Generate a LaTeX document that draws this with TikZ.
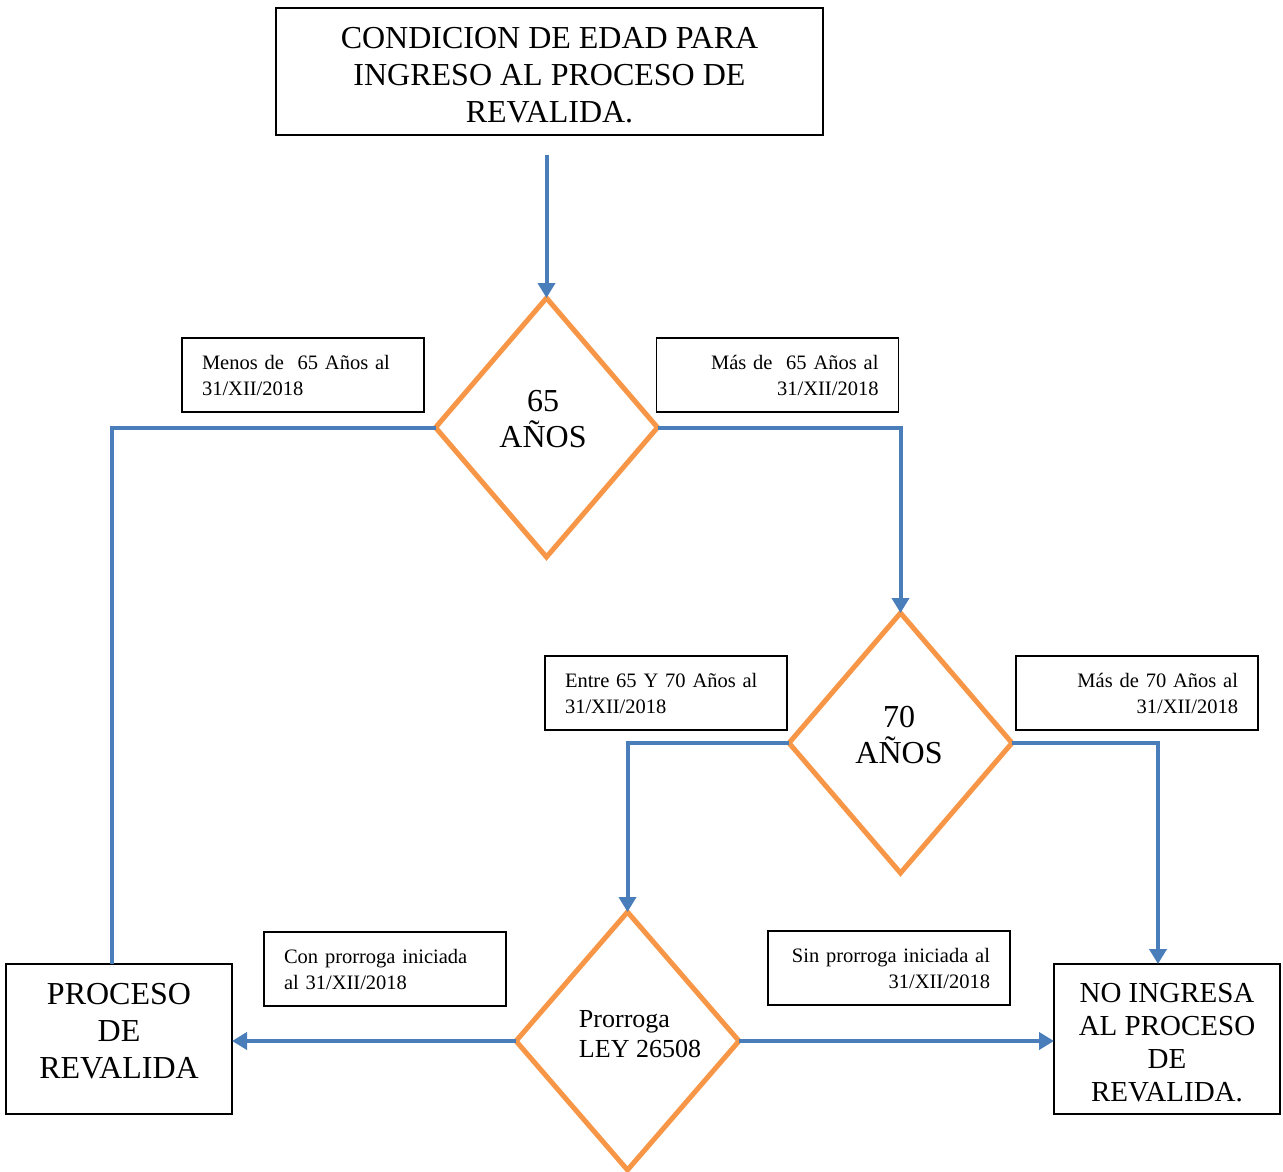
\documentclass[tikz,border=0pt]{standalone}
\usepackage{fontspec}
\setmainfont{Liberation Serif}
\usetikzlibrary{shapes.geometric,arrows.meta}
\definecolor{flowblue}{HTML}{4A7EBB}
\definecolor{floworange}{HTML}{F79646}
\begin{document}
\begin{tikzpicture}[x=1pt,y=-1pt,
 bigbox/.style={draw=black, line width=1.3pt, inner sep=0pt, outer sep=0pt},
 boxtext/.style={inner sep=0pt, align=center, font=\fontsize{32}{37}\selectfont},
 lblbox/.style={draw=black, line width=1.3pt, inner xsep=20pt, inner ysep=0pt, minimum height=74pt, text width=202pt, outer sep=0pt, font=\fontsize{20.5}{26}\selectfont},
 dec/.style={diamond, draw=floworange, line width=5pt, inner sep=0pt, outer sep=0pt},
 dectext/.style={inner sep=0pt, align=center, font=\fontsize{32}{36}\selectfont},
 conn/.style={draw=flowblue, line width=4pt},
 arr/.style={conn, -{Triangle[width=17pt,length=15pt]}}
]
\useasboundingbox (0,0) rectangle (1283,1172);

% main boxes
\node[bigbox, minimum width=547pt, minimum height=127pt] (title) at (549.5,71.5) {};
\node[boxtext] (titletext) at (549.5,75) {CONDICION DE EDAD PARA\\INGRESO AL PROCESO DE\\REVALIDA.};
\node[bigbox, minimum width=226pt, minimum height=150pt] (proc) at (119,1039) {};
\node[boxtext] (proctext) at (119,1031) {PROCESO\\DE\\REVALIDA};
\node[bigbox, minimum width=226pt, minimum height=150pt] (noing) at (1167,1039) {};
\node[boxtext, font=\fontsize{29}{33}\selectfont] (noingtext) at (1167,1043) {NO INGRESA\\AL PROCESO\\DE\\REVALIDA.};

% decisions
\node[dec, minimum width=222pt, minimum height=259pt] (d65) at (546.5,427.5) {};
\node[dectext] (d65text) at (543,419.5) {65\\AÑOS};
\node[dec, minimum width=223pt, minimum height=260pt] (d70) at (900.5,743) {};
\node[dectext] (d70text) at (899,735) {70\\AÑOS};
\node[dec, minimum width=223pt, minimum height=258pt] (dpr) at (627.5,1041) {};
\node[align=left, inner sep=0pt, font=\fontsize{26}{30}\selectfont] (dprtext) at (640,1034) {Prorroga\\LEY 26508};

% labels
\node[lblbox, align=left]  (l1) at (303,375)   {Menos de\ \ 65 Años al\\31/XII/2018};
\node[lblbox, align=right] (l2) at (777.5,375) {Más de\ \ 65 Años al\\31/XII/2018};
\node[lblbox, align=left]  (l3) at (666,693)   {Entre 65 Y 70 Años al\\31/XII/2018};
\node[lblbox, align=right] (l4) at (1137,693)  {Más de 70 Años al\\31/XII/2018};
\node[lblbox, align=left]  (l5) at (385,969)   {Con prorroga iniciada\\al 31/XII/2018};
\node[lblbox, align=right] (l6) at (889,968)   {Sin prorroga iniciada al\\31/XII/2018};

% connectors
\coordinate (s0) at (546.5,155);
\draw[arr] (s0) -- (d65.north);
\draw[conn] (d65.west) -| ([xshift=-7pt]proc.north);
\draw[arr] (d65.east) -| (d70.north);
\draw[arr] (d70.west) -| (dpr.north);
\draw[arr] (d70.east) -| ([xshift=-9pt]noing.north);
\draw[arr] (dpr.west) -- (proc.east |- dpr.west);
\draw[arr] (dpr.east) -- (noing.west |- dpr.east);
\end{tikzpicture}
\end{document}
